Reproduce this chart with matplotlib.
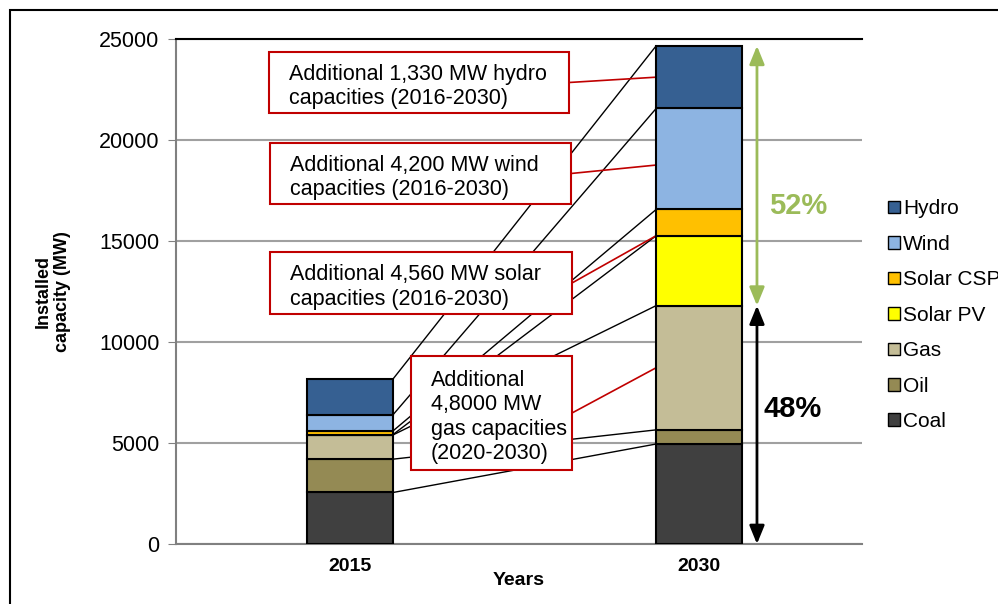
import matplotlib
matplotlib.use("Agg")
import matplotlib.pyplot as plt
from matplotlib.patches import Patch, Rectangle
import numpy as np

plt.rcParams["font.family"] = ["Liberation Sans", "DejaVu Sans"]

# --- Data (MW) ---
years = ["2015", "2030"]
sources = ["Coal", "Oil", "Gas", "Solar PV", "Solar CSP", "Wind", "Hydro"]
coal = [2550, 4950]
oil = [1650, 700]
gas = [1200, 6150]
solar_pv = [20, 3460]
solar_csp = [180, 1300]
wind = [800, 5000]
hydro = [1770, 3100]
colors = ["#404040", "#948A54", "#C4BD97", "#FFFF00", "#FFC000", "#8DB4E2", "#366092"]

annot_texts = [
    "Additional 1,330 MW hydro\ncapacities (2016-2030)",
    "Additional 4,200 MW wind\ncapacities (2016-2030)",
    "Additional 4,560 MW solar\ncapacities (2016-2030)",
    "Additional\n4,8000 MW\ngas capacities\n(2020-2030)",
]
share_labels = ["52%", "48%"]

series = [coal, oil, gas, solar_pv, solar_csp, wind, hydro]
vals = np.array(series, dtype=float)
tops = np.cumsum(vals, axis=0)
bottoms = tops - vals

fig = plt.figure(figsize=(9.98, 6.04), dpi=100)
ax = fig.add_axes([176 / 998, 60 / 604, 686 / 998, 505 / 604])

x = np.arange(len(years))
w = 0.246
for i, name in enumerate(sources):
    ax.bar(x, vals[i], w, bottom=bottoms[i], color=colors[i],
           edgecolor="black", linewidth=1.5, zorder=4, label=name)

# --- connecting lines between the two bars ---
for i in range(len(sources)):
    ax.plot([x[0] + w / 2, x[1] - w / 2], [tops[i, 0], tops[i, 1]],
            color="black", lw=1, zorder=1)


def axpos(px, py):
    # pixel position in the picture -> axes fraction
    return (px - 176) / 686, (544 - py) / 505


# --- annotation boxes ---
boxes = [(269, 52, 569, 113), (270, 143, 571, 204),
         (270, 252, 572, 314), (411, 356, 572, 470)]
targets = [
    (tops[5, 1] + tops[6, 1]) / 2,
    (tops[4, 1] + tops[5, 1]) / 2 - 300,
    tops[3, 1],
    (tops[1, 1] + tops[2, 1]) / 2,
]
for (x0, y0, x1, y1), txt, ty in zip(boxes, annot_texts, targets):
    ax0, ay0 = axpos(x0, y1)
    ax1, ay1 = axpos(x1, y0)
    ax.add_patch(Rectangle((ax0, ay0), ax1 - ax0, ay1 - ay0, transform=ax.transAxes,
                           facecolor="white", edgecolor="#C00000", lw=1.5, zorder=5))
    ax.text(ax0 + 20 / 686, (ay0 + ay1) / 2 - 4 / 505, txt, transform=ax.transAxes,
            ha="left", va="center", fontsize=15.5, linespacing=1.22, zorder=6)
    ax.annotate("", xy=(x[1] - w / 2, ty), xycoords="data",
                xytext=(ax1, (ay0 + ay1) / 2), textcoords="axes fraction",
                arrowprops=dict(arrowstyle="-", color="#C00000", lw=1.2,
                                shrinkA=0, shrinkB=0), zorder=3)

# --- share arrows ---
xa = 1.166
split = tops[2, 1]
ax.annotate("", xy=(xa, tops[-1, 1]), xytext=(xa, split),
            arrowprops=dict(arrowstyle="<|-|>,head_length=1.1,head_width=0.45",
                            color="#9BBB59", lw=2, shrinkA=0, shrinkB=0))
ax.annotate("", xy=(xa, split), xytext=(xa, 0),
            arrowprops=dict(arrowstyle="<|-|>,head_length=1.1,head_width=0.45",
                            color="black", lw=2, shrinkA=0, shrinkB=0))
ax.text(xa + 0.035, (split + tops[-1, 1]) / 2 - 1500, share_labels[0], color="#9BBB59",
        fontsize=21, fontweight="bold", ha="left", va="center")
ax.text(xa + 0.02, split / 2 + 800, share_labels[1], color="black",
        fontsize=21, fontweight="bold", ha="left", va="center")

# --- axes styling ---
ax.set_xlim(-0.499, 1.467)
ax.set_ylim(0, 25000)
ax.set_yticks(np.arange(0, 25001, 5000))
ax.tick_params(axis="y", labelsize=15.5, length=6, pad=6, color="#808080", direction="out")
ax.set_xticks(x)
ax.set_xticklabels(years, fontsize=14, fontweight="bold")
ax.tick_params(axis="x", length=0, pad=10)
ax.yaxis.grid(True, color="#A0A0A0", lw=1.5, zorder=0)
ax.set_axisbelow(True)
ax.spines["right"].set_visible(False)
ax.spines["top"].set_color("black")
ax.spines["top"].set_linewidth(1.5)
for s in ["left", "bottom"]:
    ax.spines[s].set_color("#808080")
    ax.spines[s].set_linewidth(1.5)
ax.set_ylabel("Installed\ncapacity (MW)", fontsize=13, fontweight="bold", labelpad=20)
ax.set_xlabel("Years", fontsize=14, fontweight="bold", labelpad=-2)

# --- legend (top entry = Hydro) ---
handles = [Patch(facecolor=c, edgecolor="black", lw=1) for c in colors[::-1]]
fig.legend(handles, sources[::-1], loc="upper left", bbox_to_anchor=(880 / 998, 1 - 191 / 604),
           frameon=False, fontsize=15, handlelength=0.55, handleheight=0.55,
           handletextpad=0.15, labelspacing=0.79, borderaxespad=0)

# --- outer frame ---
fig.patches.append(Rectangle((10 / 998, -0.1), 1.2, 1 - 10 / 604 + 0.1,
                             transform=fig.transFigure, fill=False,
                             edgecolor="black", lw=1.5))

plt.savefig("out.png", dpi=100)
